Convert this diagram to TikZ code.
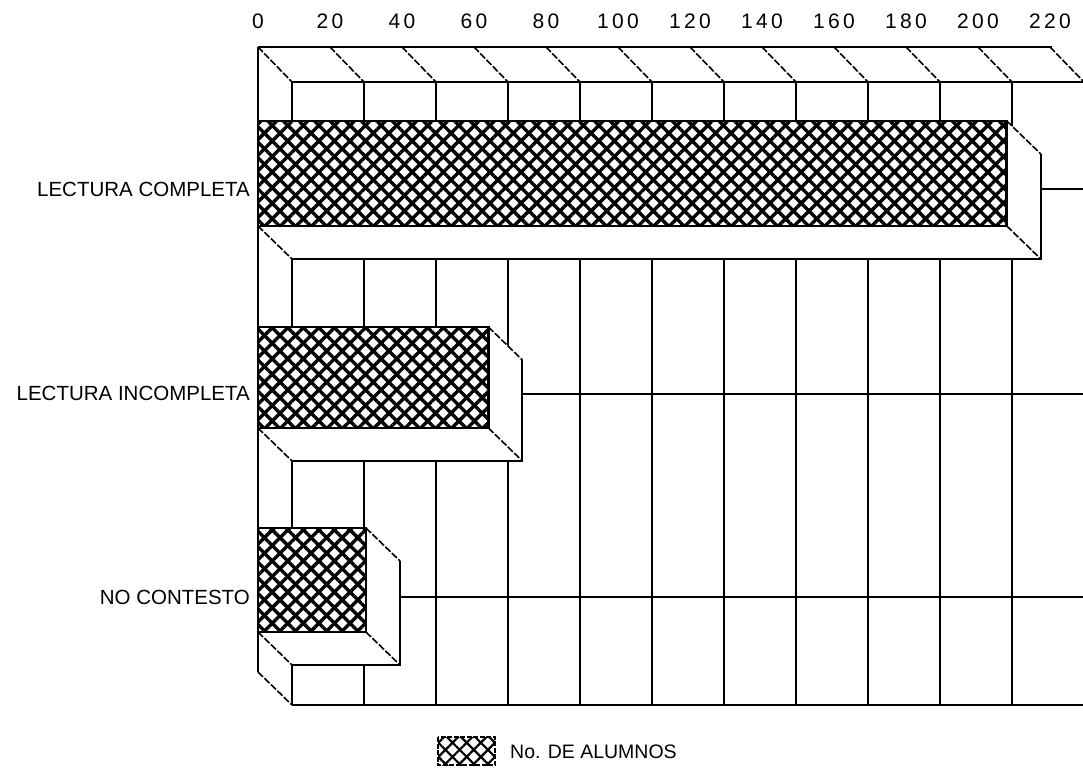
\documentclass[tikz,border=0pt]{standalone}
\usepackage{fontspec}
\setmainfont{Liberation Sans}
\newfontfamily\tickfont[LetterSpace=16]{Liberation Sans}
\usetikzlibrary{patterns.meta}
\begin{document}
\begin{tikzpicture}[x=1pt,y=-1pt,
  gridline/.style={line width=2pt,black},
  diagline/.style={line width=1.6pt,black,dash pattern=on 7pt off 2pt},
  barframe/.style={line width=2.8pt,black},
  meshA/.style={pattern={Lines[angle=45,distance=11pt,line width=3.4pt]}},
  meshB/.style={pattern={Lines[angle=-45,distance=11pt,line width=3.4pt]}},
  ticklabel/.style={font=\tickfont\fontsize{21}{21}\selectfont,inner sep=0pt},
  catlabel/.style={font=\fontsize{20.5}{21}\selectfont,inner sep=0pt,anchor=east},
  legendlabel/.style={font=\fontsize{19.5}{20}\selectfont,inner sep=0pt,anchor=west}]
\useasboundingbox (0,0) rectangle (1083,771);
\begin{scope}
\clip (0,0) rectangle (1083,771);
% back wall verticals
\foreach \k in {0,...,11}
  \draw[gridline] ({292+72*\k},82) -- ({292+72*\k},705);
% back wall horizontals
\draw[gridline] (292,82) -- (1100,82);
\draw[gridline] (292,705) -- (1100,705);
\foreach \y in {189,394,597}
  \draw[gridline] (292,\y) -- (1100,\y);
% ceiling
\draw[gridline] (258,47) -- (1052,47);
\foreach \k in {0,...,11}
  \draw[diagline] ({258+72*\k},47) -- ({292+72*\k},82);
% left wall
\draw[gridline] (258,47) -- (258,672);
\draw[diagline] (258,672) -- (292,705);
% bars
\foreach \v/\t/\h in {208/121/105, 64/327/101, 30/528/104} {
  \pgfmathsetmacro\xr{258+3.6*\v}
  \pgfmathsetmacro\bt{\t+\h}
  % side face
  \fill[white] (\xr,\t) -- ({\xr+34},{\t+33}) -- ({\xr+34},{\bt+33}) -- (\xr,\bt) -- cycle;
  % bottom face
  \fill[white] (258,\bt) -- (\xr,\bt) -- ({\xr+34},{\bt+33}) -- (292,{\bt+33}) -- cycle;
  \draw[diagline] (\xr,\t) -- ({\xr+34},{\t+33});
  \draw[diagline] (\xr,\bt) -- ({\xr+34},{\bt+33});
  \draw[diagline] (258,\bt) -- (292,{\bt+33});
  \draw[gridline] ({\xr+34},{\t+33}) -- ({\xr+34},{\bt+33}) -- (292,{\bt+33});
  % front face
  \fill[white] (258,\t) rectangle (\xr,\bt);
  \fill[meshA] (258,\t) rectangle (\xr,\bt);
  \fill[meshB] (258,\t) rectangle (\xr,\bt);
  \draw[barframe] (258,\t) rectangle (\xr,\bt);
}
\end{scope}
% value labels
\foreach \k [evaluate=\k as \lab using int(20*\k)] in {0,...,11}
  \node[ticklabel] (tick\k) at ({258+72*\k},21) {\lab};
% category labels
\node[catlabel] (catA) at (250,189) {LECTURA COMPLETA};
\node[catlabel] (catB) at (250,393) {LECTURA INCOMPLETA};
\node[catlabel] (catC) at (250,597) {NO CONTESTO};
% legend
\fill[white] (438,737) rectangle (495,765);
\fill[pattern={Lines[angle=45,distance=10pt,line width=2.2pt]}] (438,737) rectangle (495,765);
\fill[pattern={Lines[angle=-45,distance=10pt,line width=2.2pt]}] (438,737) rectangle (495,765);
\draw[line width=1.4pt,dash pattern=on 5pt off 1.5pt] (438,737) rectangle (495,765);
\node[legendlabel] (legtext) at (510,752) {No. DE ALUMNOS};
\end{tikzpicture}
\end{document}
